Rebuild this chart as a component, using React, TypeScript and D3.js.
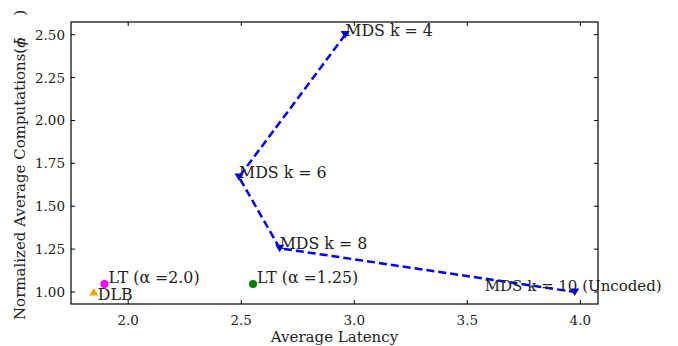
import React from "react";
import * as d3 from "d3";

const mdsLabels = ["MDS k = 4", "MDS k = 6", "MDS k = 8", "MDS k = 10 (Uncoded)"];
const mdsLatency = [2.96, 2.49, 2.67, 3.975];
const mdsComp = [2.5, 1.67, 1.255, 1.0];

const ltLabels = ["LT (\u03B1 =2.0)", "LT (\u03B1 =1.25)"];
const ltLatency = [1.895, 2.552];
const ltComp = [1.047, 1.047];
const ltColors = ["#ff00ff", "#008000"];

const dlbLabel = "DLB";
const dlbLatency = [1.848];
const dlbComp = [1.0];

const xTicks = [2.0, 2.5, 3.0, 3.5, 4.0];
const yTicks = [1.0, 1.25, 1.5, 1.75, 2.0, 2.25, 2.5];

const W = 678, H = 346;
const L = 71, R = 598, T = 22, B = 304;

export default function App() {
  const x = d3.scaleLinear().domain([1.747, 4.078]).range([L, R]);
  const y = d3.scaleLinear().domain([0.93, 2.574]).range([B, T]);
  const line = d3.line<number>().x((_, i) => x(mdsLatency[i])).y((_, i) => y(mdsComp[i]));
  const font = "DejaVu Serif";
  const txt = "#222";
  const fs = 15.8;
  const tri = (cx: number, cy: number, s: number, down: boolean) => {
    const d = down ? 1 : -1;
    return `M${cx - s},${cy - d * s * 0.8} L${cx + s},${cy - d * s * 0.8} L${cx},${cy + d * s * 0.9} Z`;
  };
  return (
    <svg width={W} height={H} style={{ position: "absolute", left: 0, top: 0, fontFamily: font }}>
      <rect x={0} y={0} width={W} height={H} fill="#fff" />
      {xTicks.map((t) => (
        <g key={"x" + t}>
          <line x1={x(t)} x2={x(t)} y1={B} y2={B - 4} stroke="#000" strokeWidth={1} />
          <line x1={x(t)} x2={x(t)} y1={T} y2={T + 4} stroke="#000" strokeWidth={1} />
          <text x={x(t)} y={325} textAnchor="middle" fontSize={13.5} fill={txt} fontFamily={font}>{t.toFixed(1)}</text>
        </g>
      ))}
      {yTicks.map((t) => (
        <g key={"y" + t}>
          <line x1={L} x2={L + 4} y1={y(t)} y2={y(t)} stroke="#000" strokeWidth={1} />
          <line x1={R} x2={R - 4} y1={y(t)} y2={y(t)} stroke="#000" strokeWidth={1} />
          <text x={65} y={y(t) + 5} textAnchor="end" fontSize={13.5} fill={txt} fontFamily={font}>{t.toFixed(2)}</text>
        </g>
      ))}
      <path d={line(mdsLatency) || ""} fill="none" stroke="#0000ff" strokeWidth={2.5} strokeDasharray="8,4" />
      {mdsLatency.map((v, i) => (
        <path key={"m" + i} d={tri(x(v), y(mdsComp[i]), 4.5, true)} fill="#0000ff" />
      ))}
      {ltLatency.map((v, i) => (
        <circle key={"l" + i} cx={x(v)} cy={y(ltComp[i])} r={4} fill={ltColors[i]} />
      ))}
      {dlbLatency.map((v, i) => (
        <path key={"d" + i} d={tri(x(v), y(dlbComp[i]), 4.5, false)} fill="#ffa500" />
      ))}
      {mdsLabels.map((s, i) => (
        <text key={"ml" + i} x={x(mdsLatency[i]) + (i === 3 ? -90 : 0)} y={y(mdsComp[i]) + (i === 3 ? -1 : 1)} fontSize={i === 3 ? 15 : fs} fill={txt} fontFamily={font}>{s}</text>
      ))}
      {ltLabels.map((s, i) => (
        <text key={"ll" + i} x={x(ltLatency[i]) + 4} y={y(ltComp[i]) - 0.5} fontSize={fs} fill={txt} fontFamily={font}>{s}</text>
      ))}
      <text x={x(dlbLatency[0]) + 4} y={y(dlbComp[0]) + 8} fontSize={fs} fill={txt} fontFamily={font}>{dlbLabel}</text>
      <rect x={L} y={T} width={R - L} height={B - T} fill="none" stroke="#000" strokeWidth={1.2} />
      <text x={(L + R) / 2} y={342} textAnchor="middle" fontSize={15} fill={txt} fontFamily={font}>Average Latency</text>
      <g transform="translate(25,320) rotate(-90)">
        <text x={0} y={0} fontSize={15} fill={txt} fontFamily={font}>
          Normalized Average Computations(
          <tspan fontStyle="italic">{"\u03D5\u0304"}</tspan>
          <tspan dx={-8} fontStyle="italic" fontSize={12}>n</tspan>
          <tspan dx={22}>)</tspan>
        </text>
      </g>
    </svg>
  );
}
